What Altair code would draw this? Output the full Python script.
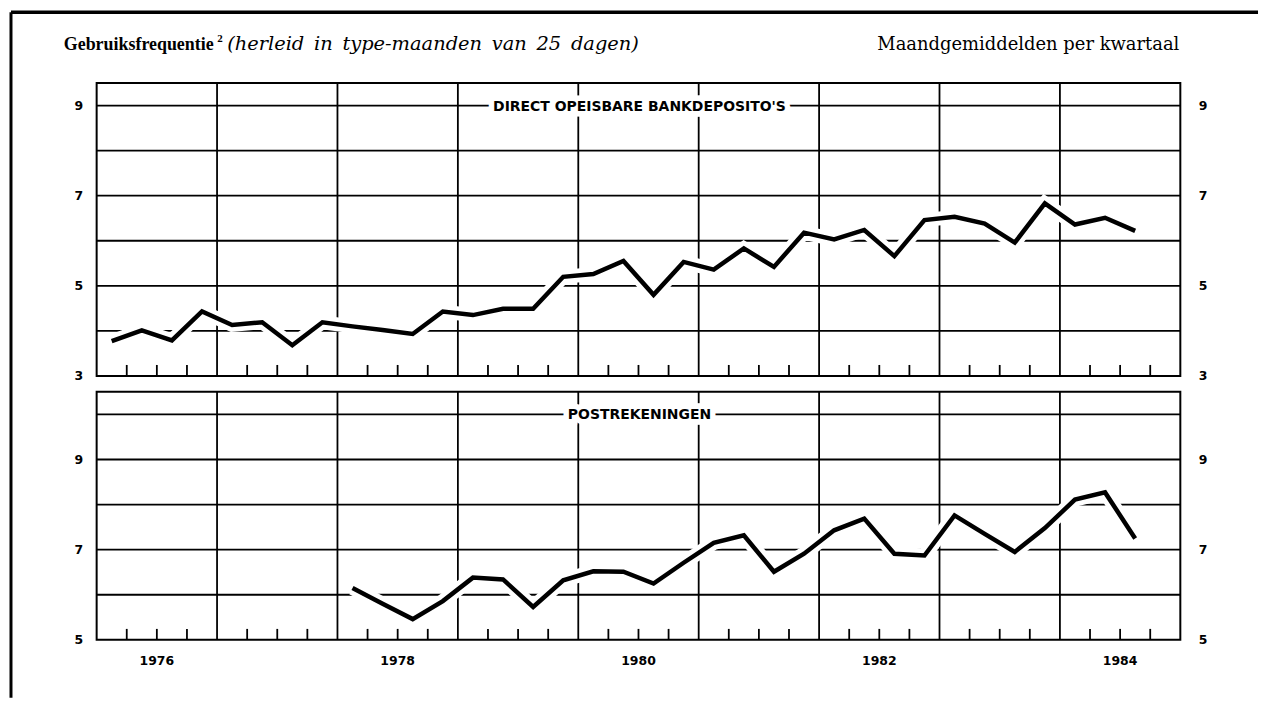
import altair as alt
import pandas as pd

# ---- data -------------------------------------------------------------
all_periods = [f"{y}-Q{q}" for y in range(1976, 1985) for q in range(1, 5)]

direct_periods = all_periods[:35]          # 1976-Q1 .. 1984-Q3
direct_values = [3.77, 4.01, 3.79, 4.43, 4.13, 4.19, 3.68, 4.19, 4.10, 4.02,
                 3.93, 4.43, 4.35, 4.49, 4.49, 5.20, 5.26, 5.55, 4.80, 5.53,
                 5.36, 5.83, 5.42, 6.18, 6.03, 6.24, 5.66, 6.46, 6.53, 6.38,
                 5.96, 6.83, 6.36, 6.51, 6.22]

post_periods = all_periods[8:35]           # 1978-Q1 .. 1984-Q3
post_values = [6.15, 5.80, 5.46, 5.86, 6.38, 6.34, 5.73, 6.32, 6.52, 6.51,
               6.25, 6.71, 7.15, 7.32, 6.51, 6.91, 7.43, 7.69, 6.91, 6.87,
               7.76, 7.35, 6.95, 7.48, 8.11, 8.27, 7.25]

year_lines = [1977, 1978, 1979, 1980, 1981, 1982, 1983, 1984]
quarter_ticks = [y + f for y in range(1976, 1985) for f in (0.25, 0.5, 0.75)]
year_label_years = [1976, 1978, 1980, 1982, 1984]

top_grid = [4, 5, 6, 7, 8, 9]
top_labels = [3, 5, 7, 9]
bot_grid = [6, 7, 8, 9, 10]
bot_labels = [5, 7, 9]

title_bold = "Gebruiksfrequentie"
title_sup = "2"
title_italic = "(herleid\u2002in\u2002type-maanden\u2002van\u200225\u2002dagen)"
title_right = "Maandgemiddelden per kwartaal"
panel1_title = "DIRECT OPEISBARE BANKDEPOSITO'S"
panel2_title = "POSTREKENINGEN"


def to_t(p):
    y, q = p.split("-Q")
    return int(y) + (int(q) - 0.5) / 4


df_direct = pd.DataFrame({"t": [to_t(p) for p in direct_periods], "v": direct_values})
df_post = pd.DataFrame({"t": [to_t(p) for p in post_periods], "v": post_values})
df_vlines = pd.DataFrame({"t": year_lines})
df_qticks = pd.DataFrame({"t": quarter_ticks})
df_years = pd.DataFrame({"year": year_label_years,
                         "t": [y + 0.5 for y in year_label_years]})
one = pd.DataFrame({"a": [0]})

W = 1088
H1 = 294
H2 = 249

xscale = alt.Scale(domain=[1976, 1985], nice=False, zero=False)
yscale1 = alt.Scale(domain=[3, 9.5], nice=False, zero=False)
yscale2 = alt.Scale(domain=[5, 10.5], nice=False, zero=False)

GRID_W = 1.8
LABEL_FONT = "DejaVu Sans"


def panel(df, grid_vals, label_vals, yscale, H, title, show_years, extra=None):
    ygrid = alt.Chart(pd.DataFrame({"v": grid_vals})).mark_rule(
        color="black", strokeWidth=GRID_W
    ).encode(y=alt.Y("v:Q", scale=yscale, axis=None))

    vgrid = alt.Chart(df_vlines).mark_rule(
        color="black", strokeWidth=GRID_W
    ).encode(x=alt.X("t:Q", scale=xscale, axis=None))

    ticks = alt.Chart(df_qticks).mark_rule(
        color="black", strokeWidth=GRID_W
    ).encode(
        x=alt.X("t:Q", scale=xscale, axis=None),
        y=alt.value(H),
        y2=alt.value(H - 11),
    )

    left_axis = alt.Chart(pd.DataFrame({"v": label_vals})).mark_point(opacity=0).encode(
        y=alt.Y("v:Q", scale=yscale,
                axis=alt.Axis(values=label_vals, orient="left", grid=False, ticks=False,
                              domain=False, labelPadding=14, title=None)),
    )
    right_axis = alt.Chart(pd.DataFrame({"v": label_vals})).mark_point(opacity=0).encode(
        y=alt.Y("v:Q", scale=yscale,
                axis=alt.Axis(values=label_vals, orient="right", grid=False, ticks=False,
                              domain=False, labelPadding=18, title=None)),
    )

    halo = alt.Chart(df).mark_line(color="white", strokeWidth=14, strokeJoin="miter").encode(
        x=alt.X("t:Q", scale=xscale, axis=None),
        y=alt.Y("v:Q", scale=yscale, axis=None),
    )
    line = alt.Chart(df).mark_line(color="black", strokeWidth=4.5, strokeJoin="miter").encode(
        x=alt.X("t:Q", scale=xscale, axis=None),
        y=alt.Y("v:Q", scale=yscale, axis=None),
    )

    ty = grid_vals[-1]
    t_halo = alt.Chart(one).transform_calculate(y=str(ty)).mark_text(
        font=LABEL_FONT, fontWeight="bold", fontSize=14, stroke="white",
        strokeWidth=11, fill="white", align="center", baseline="middle", dy=1,
    ).encode(x=alt.value(545), y=alt.Y("y:Q", scale=yscale, axis=None),
             text=alt.value(title))
    t_text = alt.Chart(one).transform_calculate(y=str(ty)).mark_text(
        font=LABEL_FONT, fontWeight="bold", fontSize=14, color="black",
        align="center", baseline="middle", dy=1,
    ).encode(x=alt.value(545), y=alt.Y("y:Q", scale=yscale, axis=None),
             text=alt.value(title))

    layers = [ygrid, vgrid, ticks, halo, line, t_halo, t_text, left_axis, right_axis]

    if show_years:
        ylab = alt.Chart(df_years).mark_text(
            font=LABEL_FONT, fontWeight="bold", fontSize=12.5, color="black",
            align="center", baseline="middle",
        ).encode(x=alt.X("t:Q", scale=xscale, axis=None), y=alt.value(H + 21),
                 text=alt.Text("year:N"))
        layers.append(ylab)
    if extra:
        layers += extra
    return alt.layer(*layers).resolve_axis(y="independent").properties(width=W, height=H)


# title texts and frame, attached to the top panel
frame_top = alt.Chart(one).mark_rule(color="black", strokeWidth=3.5).encode(
    x=alt.value(-86), x2=alt.value(1166), y=alt.value(-71))
frame_left = alt.Chart(one).mark_rule(color="black", strokeWidth=3).encode(
    x=alt.value(-86), y=alt.value(-71), y2=alt.value(617))
tb = alt.Chart(one).mark_text(font="Liberation Serif", fontWeight="bold", fontSize=18,
                              align="left", baseline="alphabetic", color="black").encode(
    x=alt.value(-33), y=alt.value(-33), text=alt.value(title_bold))
ts = alt.Chart(one).mark_text(font="Liberation Serif", fontWeight="bold", fontSize=11,
                              align="left", baseline="alphabetic", color="black").encode(
    x=alt.value(121), y=alt.value(-41), text=alt.value(title_sup))
ti = alt.Chart(one).mark_text(font="DejaVu Serif", fontStyle="italic", fontSize=19.5,
                              align="left", baseline="alphabetic", color="black").encode(
    x=alt.value(131), y=alt.value(-33), text=alt.value(title_italic))
tr = alt.Chart(one).mark_text(font="DejaVu Serif", fontSize=18,
                              align="right", baseline="alphabetic", color="black").encode(
    x=alt.value(1087), y=alt.value(-33), text=alt.value(title_right))

top = panel(df_direct, top_grid, top_labels, yscale1, H1, panel1_title, False,
            extra=[frame_top, frame_left, tb, ts, ti, tr])
bottom = panel(df_post, bot_grid, bot_labels, yscale2, H2, panel2_title, True)

chart = alt.vconcat(top, bottom, spacing=16, bounds="flush").properties(
    padding=0, background="white"
).configure_view(
    stroke="black", strokeWidth=2
).configure_axis(
    labelFont=LABEL_FONT, labelFontWeight="bold", labelFontSize=12.5,
    labelColor="black"
)

chart.save("out.html", embed_options={"renderer": "svg", "actions": False})
